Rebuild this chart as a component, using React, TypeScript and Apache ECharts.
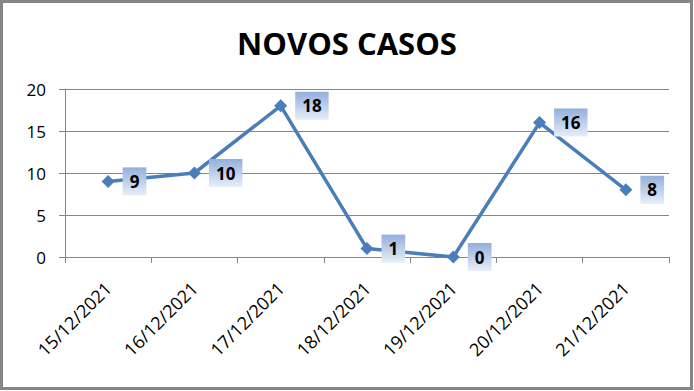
import React, { useEffect, useRef } from "react";
import * as echarts from "echarts";

const categories = ["15/12/2021", "16/12/2021", "17/12/2021", "18/12/2021", "19/12/2021", "20/12/2021", "21/12/2021"];
const novosCasos = [9, 10, 18, 1, 0, 16, 8];
const yTicks = { min: 0, max: 20, interval: 5 };
const titleText = "NOVOS CASOS";

export default function App() {
  const ref = useRef<HTMLDivElement>(null);
  useEffect(() => {
    if (!ref.current) return;
    const chart = echarts.init(ref.current, null, { renderer: "svg" });
    const font = "'Open Sans', sans-serif";
    chart.setOption({
      animation: false,
      backgroundColor: "#ffffff",
      title: {
        text: titleText,
        left: "center",
        top: 22,
        textStyle: { fontFamily: font, fontSize: 31, fontWeight: "bold", color: "#000" },
      },
      graphic: [
        {
          type: "rect",
          shape: { x: 1.5, y: 1.5, width: 690, height: 387 },
          style: { fill: "none", stroke: "#868686", lineWidth: 3 },
          z: 100,
        },
      ],
      grid: { left: 65, top: 89, width: 604, height: 168, containLabel: false },
      xAxis: {
        type: "category",
        data: categories,
        boundaryGap: true,
        axisLine: { lineStyle: { color: "#868686", width: 1 } },
        axisTick: { show: true, length: 6, lineStyle: { color: "#868686" } },
        axisLabel: { rotate: 45, margin: 28, fontFamily: font, fontSize: 18, color: "#000" },
      },
      yAxis: {
        type: "value",
        min: yTicks.min,
        max: yTicks.max,
        interval: yTicks.interval,
        axisLine: { show: true, lineStyle: { color: "#868686", width: 1 } },
        axisTick: { show: true, length: 6, lineStyle: { color: "#868686" } },
        splitLine: { show: true, lineStyle: { color: "#868686", width: 1 } },
        axisLabel: { margin: 19, fontFamily: font, fontSize: 17, color: "#000" },
      },
      series: [
        {
          type: "line",
          data: novosCasos,
          symbol: "diamond",
          symbolSize: 13,
          lineStyle: { color: "#4a7ebb", width: 3.5 },
          itemStyle: { color: "#4a7ebb" },
          label: {
            show: true,
            position: "right",
            distance: 8,
            fontFamily: font,
            fontSize: 17,
            fontWeight: "bold",
            color: "#000",
            padding: [6, 7, 5, 7],
            backgroundColor: new echarts.graphic.LinearGradient(0, 0, 0, 1, [
              { offset: 0, color: "#93afdb" },
              { offset: 1, color: "#e8eef8" },
            ]),
          },
        },
      ],
    });
    return () => chart.dispose();
  }, []);
  return (
    <div style={{ position: "fixed", left: 0, top: 0, width: 694, height: 391 }}>
      <div ref={ref} style={{ width: 694, height: 391 }} />
    </div>
  );
}
